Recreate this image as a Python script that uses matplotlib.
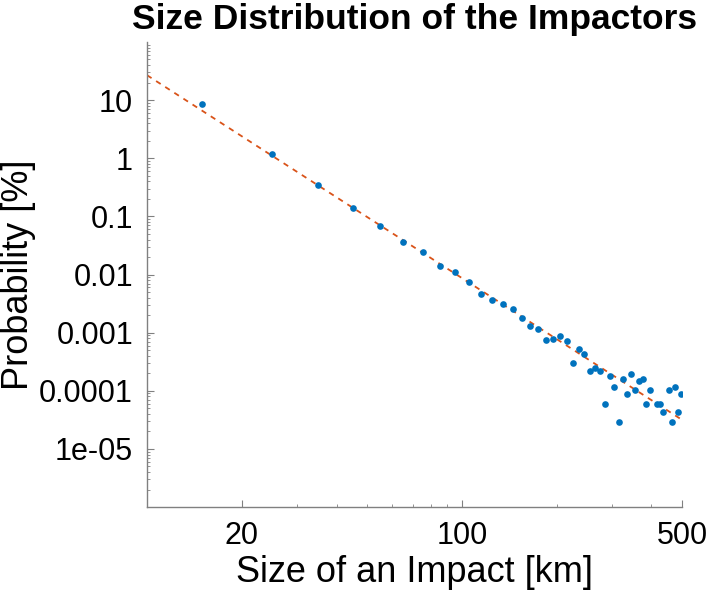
import numpy as np
import matplotlib
import matplotlib.pyplot as plt
from matplotlib.ticker import FixedLocator, LogLocator, NullFormatter

matplotlib.use("Agg")

plt.rcParams['font.family'] = ['Liberation Sans', 'DejaVu Sans']

# bin centres [km] and measured probability [%]
sizes = [15, 25, 35, 45, 55, 65, 75, 85, 95, 105,
         115, 125, 135, 145, 155, 165, 175, 185, 195, 205,
         215, 225, 235, 245, 255, 265, 275, 285, 295, 305,
         315, 325, 335, 345, 355, 365, 375, 385, 395, 415,
         425, 435, 455, 465, 475, 485, 495]
probability = [8.5, 1.17, 0.344, 0.141, 0.069, 0.0367, 0.024, 0.0138, 0.0112, 0.00746,
               0.00457, 0.0036, 0.00305, 0.0026, 0.00175, 0.00128, 0.00115, 0.00076, 0.00079, 0.00086,
               0.00073, 0.000296, 0.000515, 0.000428, 0.000219, 0.00025, 0.000219, 5.86e-5, 0.000177, 0.000118,
               2.92e-5, 0.000162, 8.85e-5, 0.000192, 0.000102, 0.000146, 0.000162, 5.86e-5, 0.000102, 5.86e-5,
               5.86e-5, 4.39e-5, 0.000103, 2.92e-5, 0.000118, 4.39e-5, 8.8e-5]

# power-law fit  P = A * d^b
FIT_AMPLITUDE = 8.3e4
FIT_EXPONENT = -3.49

x_ticks = [20, 100, 500]
x_ticklabels = ['20', '100', '500']
y_ticks = [1e1, 1e0, 1e-1, 1e-2, 1e-3, 1e-4, 1e-5]
y_ticklabels = ['10', '1', '0.1', '0.01', '0.001', '0.0001', '1e-05']

fig = plt.figure(figsize=(7.08, 5.98), dpi=100)
ax = fig.add_axes([147 / 708, 1 - 507 / 598, (682 - 147) / 708, (507 - 42) / 598])

xf = np.geomspace(10, 500, 200)
ax.plot(xf, FIT_AMPLITUDE * xf ** FIT_EXPONENT, '--', color='#D95319', lw=1.3, dashes=(3, 3))
ax.plot(sizes, probability, 'o', color='#0072BD', ms=4.8, mec='none')

ax.set_xscale('log')
ax.set_yscale('log')
ax.set_xlim(10, 500)
ax.set_ylim(1e-6, 100)

ax.xaxis.set_major_locator(FixedLocator(x_ticks))
ax.set_xticklabels(x_ticklabels)
ax.xaxis.set_minor_locator(FixedLocator([30, 40, 50, 60, 70, 80, 90, 200, 300, 400]))
ax.xaxis.set_minor_formatter(NullFormatter())
ax.yaxis.set_major_locator(FixedLocator(y_ticks))
ax.set_yticklabels(y_ticklabels)
ax.yaxis.set_minor_locator(LogLocator(base=10, subs=np.arange(2, 10), numticks=20))
ax.yaxis.set_minor_formatter(NullFormatter())

for s in ['top', 'right']:
    ax.spines[s].set_visible(False)
for s in ['left', 'bottom']:
    ax.spines[s].set_color('#808080')
    ax.spines[s].set_linewidth(1.0)

ax.tick_params(which='both', direction='in', color='#808080', labelsize=22)
ax.tick_params(which='major', length=5, width=0.8, pad=10)
ax.tick_params(which='minor', length=2.5, width=0.6)

ax.set_xlabel('Size of an Impact [km]', fontsize=26, labelpad=3)
ax.set_ylabel('Probability [%]', fontsize=26, labelpad=2)
ax.set_title('Size Distribution of the Impactors', fontsize=25.5, fontweight='bold', pad=9)

plt.savefig('out.png', dpi=100)
plt.close(fig)
